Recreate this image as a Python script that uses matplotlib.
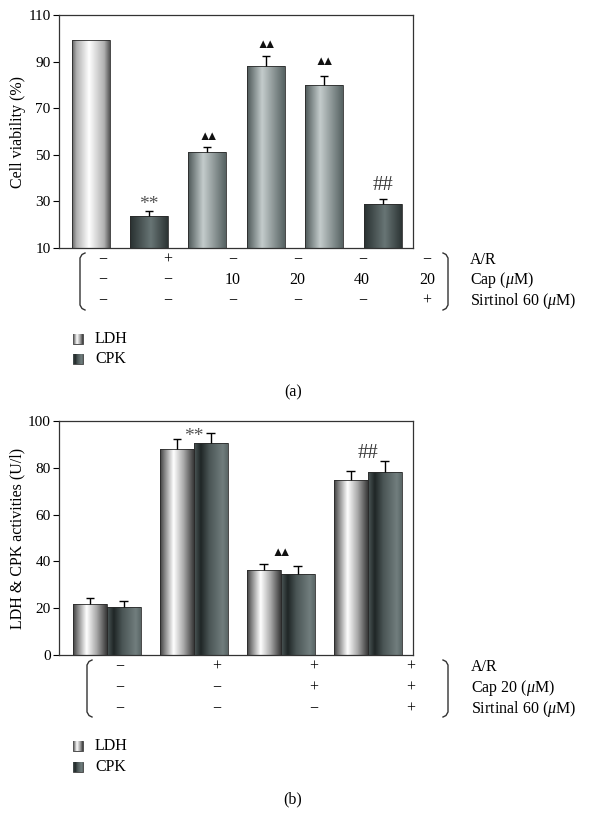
import numpy as np
import matplotlib
matplotlib.use('Agg')
import matplotlib.pyplot as plt
from matplotlib.colors import LinearSegmentedColormap

plt.rcParams['font.family'] = ['Liberation Serif', 'DejaVu Sans']
plt.rcParams['mathtext.fontset'] = 'custom'
plt.rcParams['mathtext.rm'] = 'Liberation Serif'
plt.rcParams['mathtext.it'] = 'Liberation Serif:italic'

# panel (a) data
a_vals = [99.3, 23.6, 51.0, 88.3, 79.8, 29.0]
a_err = [0.0, 2.2, 2.2, 4.3, 4.0, 2.0]
a_marks = ['', '**', '▲▲', '▲▲', '▲▲', '##']
a_rows = [['−', '+', '−', '−', '−', '−'],
          ['−', '−', '10', '20', '40', '20'],
          ['−', '−', '−', '−', '−', '+']]
a_row_labels = ['A/R', r'Cap ($\mu$M)', r'Sirtinol 60 ($\mu$M)']
a_ticks = [10, 30, 50, 70, 90, 110]

# panel (b) data
b_ldh = [22.0, 88.2, 36.2, 75.0]
b_ldh_err = [2.4, 4.1, 2.9, 3.8]
b_cpk = [20.7, 90.4, 34.8, 78.0]
b_cpk_err = [2.4, 4.5, 3.2, 4.8]
b_marks = ['', '**', '▲▲', '##']
b_rows = [['−', '+', '+', '+'],
          ['−', '−', '+', '+'],
          ['−', '−', '−', '+']]
b_row_labels = ['A/R', r'Cap 20 ($\mu$M)', r'Sirtinal 60 ($\mu$M)']
b_ticks = [0, 20, 40, 60, 80, 100]

legend_names = ['LDH', 'CPK']

# vertical nudge (points) of each significance mark above its error bar
a_mark_dy = [0, -1.6, 3.0, 3.0, 5.5, 3.0]
b_mark_dy = [0, -8.8, 3.2, -1.5]

cm_ldh = LinearSegmentedColormap.from_list('ldh', [(0, '#3e3e3e'), (0.15, '#8a8a8a'), (0.4, '#ffffff'),
                                                   (0.7, '#a8a8a8'), (1, '#383838')])
cm_cpk = LinearSegmentedColormap.from_list('cpk', [(0, '#4d5858'), (0.2, '#1f2626'), (0.45, '#4a5555'),
                                                   (0.85, '#717e7e'), (1, '#5a6666')])
cm_dark = LinearSegmentedColormap.from_list('dark', [(0, '#283030'), (0.55, '#687575'), (1, '#2c3434')])
cm_mid = LinearSegmentedColormap.from_list('mid', [(0, '#4c5757'), (0.4, '#c4cccc'), (1, '#566262')])
cm_light = LinearSegmentedColormap.from_list('light', [(0, '#606060'), (0.12, '#b0b0b0'), (0.45, '#ffffff'),
                                                       (0.85, '#b0b0b0'), (1, '#555555')])
a_cmaps = [cm_light, cm_dark, cm_mid, cm_mid, cm_mid, cm_dark]

grad = np.linspace(0, 1, 256)[None, :]


def grad_bar(ax, x, top, w, cmap, bottom=0):
    r = ax.bar(x, top - bottom, w, bottom=bottom, facecolor='none', edgecolor='#2a2a2a',
               lw=0.6, zorder=3)[0]
    im = ax.imshow(grad, cmap=cmap, aspect='auto', interpolation='bilinear',
                   extent=[r.get_x(), r.get_x() + w, bottom, top], zorder=2)
    im.set_clip_path(r)


def err_up(ax, x, top, e, cw):
    if e <= 0:
        return
    ax.vlines(x, top, top + e, color='black', lw=1.0, zorder=4)
    ax.hlines(top + e, x - cw, x + cw, color='black', lw=1.0, zorder=4)


def mark(ax, x, y, s, dy):
    if '▲' in s:
        # two touching triangles, pulled together with negative math spacing
        ax.annotate(r'$\mathrm{▲}\!\!\!\mathrm{▲}$', (x, y), xytext=(0, dy), textcoords='offset points',
                    ha='center', va='bottom', fontsize=9, color='#111111')
        return
    ax.annotate(s, (x, y), xytext=(0, dy), textcoords='offset points', ha='center', va='bottom',
                fontsize=14 if s == '**' else 15,
                color='#555555' if s == '**' else '#3a3a3a')


def style_axes(ax, ticks):
    ax.set_yticks(ticks)
    ax.set_ylim(ticks[0], ticks[-1])
    ax.set_xticks([])
    ax.tick_params(axis='y', direction='out', length=4, width=0.8, labelsize=11, pad=2)
    for s in ax.spines.values():
        s.set_linewidth(0.9)
        s.set_color('#333333')


W, H = 606, 831
fig = plt.figure(figsize=(W / 100, H / 100), dpi=100)
over = fig.add_axes([0, 0, 1, 1])
over.set_xlim(0, W)
over.set_ylim(H, 0)
over.axis('off')


def px_axes(l, r, t, b):
    return fig.add_axes([l / W, (H - b) / H, (r - l) / W, (b - t) / H])


# ---- panel (a)
ax1 = px_axes(59, 413, 15, 248)
xa = np.arange(len(a_vals))
for i, v in enumerate(a_vals):
    grad_bar(ax1, xa[i], v, 0.65, a_cmaps[i], bottom=10)
    err_up(ax1, xa[i], v, a_err[i], 0.07)
    if a_marks[i]:
        mark(ax1, xa[i], v + a_err[i], a_marks[i], a_mark_dy[i])
ax1.set_xlim(-0.54, 5.52)
style_axes(ax1, a_ticks)
ax1.set_ylabel('Cell viability (%)', fontsize=11.5, labelpad=2)

# ---- panel (b)
ax2 = px_axes(59, 413, 421, 655)
xb = np.arange(len(b_ldh))
bw = 0.39
for i in range(len(xb)):
    grad_bar(ax2, xb[i] - bw / 2, b_ldh[i], bw, cm_ldh)
    grad_bar(ax2, xb[i] + bw / 2, b_cpk[i], bw, cm_cpk)
    err_up(ax2, xb[i] - bw / 2, b_ldh[i], b_ldh_err[i], 0.05)
    err_up(ax2, xb[i] + bw / 2, b_cpk[i], b_cpk_err[i], 0.05)
    if b_marks[i]:
        top = max(b_ldh[i] + b_ldh_err[i], b_cpk[i] + b_cpk_err[i])
        mark(ax2, xb[i], top, b_marks[i], b_mark_dy[i])
ax2.set_xlim(-0.55, 3.52)
style_axes(ax2, b_ticks)
ax2.set_ylabel('LDH & CPK activities (U/l)', fontsize=11.5, labelpad=2)


# ---- condition tables, brackets, legends (overlay in pixel coords)
def bracket(x, t, b, side):
    d = 5 * side
    xs = [x + d, x + d * 0.4, x, x, x + d * 0.4, x + d]
    ys = [t, t + 1.5, t + 5, b - 5, b - 1.5, b]
    over.plot(xs, ys, color='#333333', lw=1.0)


def table(rows, labels, col0, dcol, row_y, label_x, br_l, br_r, br_t, br_b):
    for r, row in enumerate(rows):
        for c, txt in enumerate(row):
            over.text(col0 + c * dcol, row_y[r], txt, ha='center', va='center', fontsize=11.5)
        over.text(label_x, row_y[r], labels[r], ha='left', va='center', fontsize=11.5)
    bracket(br_l, br_t, br_b, 1)
    bracket(br_r, br_t, br_b, -1)


def legend(y0, dy):
    for k, name in enumerate(legend_names):
        y = y0 + k * dy
        cm = cm_ldh if k == 0 else cm_cpk
        over.imshow(grad, cmap=cm, aspect='auto', extent=[73, 83, y + 5, y - 5], zorder=2)
        over.add_patch(plt.Rectangle((73, y - 5), 10, 10, fill=False, ec='#333333', lw=0.6))
        over.text(95, y, name, ha='left', va='center', fontsize=11.5)


table(a_rows, a_row_labels, 103, 64.8, [260, 280, 301], 470, 80, 448, 253, 310)
legend(339, 20)
over.text(293, 392, '(a)', ha='center', va='center', fontsize=11.5)

table(b_rows, b_row_labels, 120, 97, [667, 688, 709], 471, 87, 448, 660, 717)
legend(746, 21)
over.text(293, 799, '(b)', ha='center', va='center', fontsize=11.5)

over.set_xlim(0, W)
over.set_ylim(H, 0)

fig.savefig('out.png', dpi=100)
